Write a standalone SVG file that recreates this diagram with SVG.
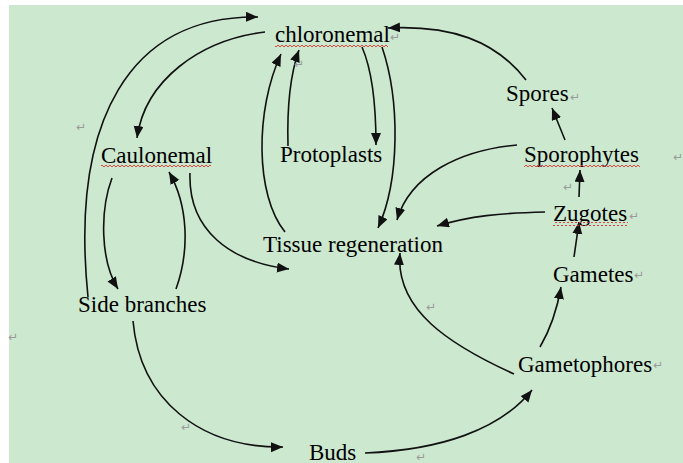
<svg xmlns="http://www.w3.org/2000/svg" width="683" height="463" viewBox="0 0 683 463">
<defs>
<marker id="ah" markerUnits="userSpaceOnUse" markerWidth="14" markerHeight="12" refX="12" refY="5" orient="auto">
<path d="M0,0 L12,5 L0,10 z" fill="#111"/>
</marker>
<pattern id="wave" patternUnits="userSpaceOnUse" width="4" height="4">
<polyline points="0,3 2,1 4,3" fill="none" stroke="#e83030" stroke-width="0.9"/>
</pattern>
</defs>
<style>
.lbl{font-family:"Liberation Serif","Times New Roman",serif;font-size:23px;fill:#000}
.pm{font-family:"DejaVu Sans",sans-serif;font-size:12px;fill:#9a9a9a}
.edge{fill:none;stroke:#111;stroke-width:1.6;marker-end:url(#ah)}
.sq{fill:url(#wave)}
</style>
<rect x="0" y="0" width="683" height="463" fill="#ffffff"/>
<rect x="9" y="5" width="674" height="458" fill="#cce8cf"/>

<g id="connectors">
<path class="edge" d="M88,297 C70,120 130,15 258,17"/>
<path class="edge" d="M265,32 C200,40 145,80 137,138"/>
<path class="edge" d="M112,178 C100,210 100,260 118,289"/>
<path class="edge" d="M176,289 C190,250 188,205 169,172"/>
<path class="edge" d="M190,173 C188,230 230,262 289,269"/>
<path class="edge" d="M285,232 C255,195 255,110 281,54"/>
<path class="edge" d="M288,146 C287,110 290,75 299,50"/>
<path class="edge" d="M362,47 C372,70 376,100 376,145"/>
<path class="edge" d="M382,47 C400,100 400,180 378,228"/>
<path class="edge" d="M526,80 C495,40 450,25 388,28"/>
<path class="edge" d="M565,140 L552,108"/>
<path class="edge" d="M517,145 C460,150 410,175 397,220"/>
<path class="edge" d="M579,197 L580,170"/>
<path class="edge" d="M545,212 C500,213 470,216 437,226"/>
<path class="edge" d="M574,257 L579,222"/>
<path class="edge" d="M540,347 C550,330 557,310 561,287"/>
<path class="edge" d="M514,374 C450,345 395,310 400,253"/>
<path class="edge" d="M133,321 C140,400 200,448 283,447"/>
<path class="edge" d="M365,453 C440,450 500,430 532,390"/>
</g>

<g id="chloronemal">
<text class="lbl" x="275" y="42">chloronemal</text>
<rect class="sq" x="275" y="43" width="113" height="4"/>
</g>
<g id="caulonemal">
<text class="lbl" x="101" y="163">Caulonemal</text>
<rect class="sq" x="101" y="164" width="110" height="4"/>
</g>
<g id="protoplasts">
<text class="lbl" x="280" y="162">Protoplasts</text>
</g>
<g id="tissue-regeneration">
<text class="lbl" x="263" y="252">Tissue regeneration</text>
</g>
<g id="side-branches">
<text class="lbl" x="78" y="312">Side branches</text>
</g>
<g id="buds">
<text class="lbl" x="309" y="460">Buds</text>
</g>
<g id="spores">
<text class="lbl" x="506" y="101">Spores</text>
</g>
<g id="sporophytes">
<text class="lbl" x="524" y="162">Sporophytes</text>
<rect class="sq" x="524" y="163" width="116" height="4"/>
</g>
<g id="zugotes">
<text class="lbl" x="553" y="221">Zugotes</text>
<rect class="sq" x="553" y="222" width="75" height="4"/>
</g>
<g id="gametes">
<text class="lbl" x="553" y="282">Gametes</text>
</g>
<g id="gametophores">
<text class="lbl" x="518" y="372">Gametophores</text>
</g>

<g id="paragraph-marks">
<text class="pm" x="390" y="41">↵</text>
<text class="pm" x="294" y="68">↵</text>
<text class="pm" x="76" y="131">↵</text>
<text class="pm" x="570" y="101">↵</text>
<text class="pm" x="673" y="161">↵</text>
<text class="pm" x="563" y="191">↵</text>
<text class="pm" x="629" y="220">↵</text>
<text class="pm" x="634" y="279">↵</text>
<text class="pm" x="653" y="369">↵</text>
<text class="pm" x="426" y="311">↵</text>
<text class="pm" x="8" y="341">↵</text>
<text class="pm" x="181" y="431">↵</text>
<text class="pm" x="416" y="461">↵</text>
</g>
</svg>
